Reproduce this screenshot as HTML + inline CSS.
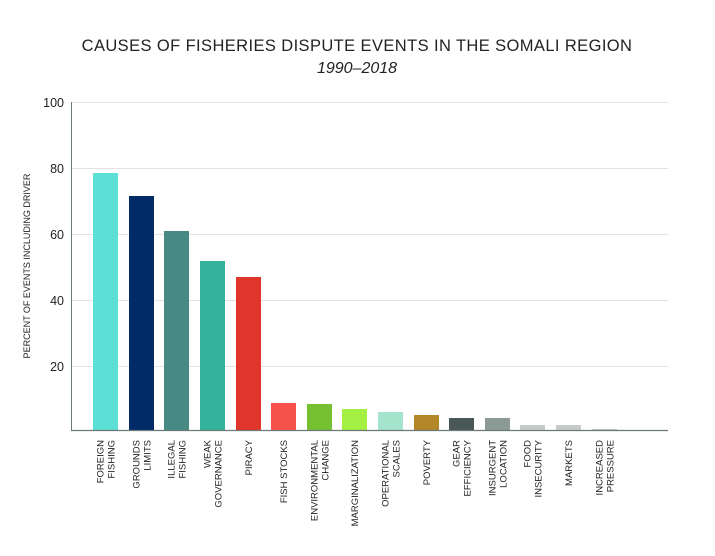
<!DOCTYPE html>
<html><head><meta charset="utf-8"><style>
body{margin:0;background:#fff;}
svg{display:block;font-family:"Liberation Sans",sans-serif;}
</style></head><body>
<svg width="715" height="556" viewBox="0 0 715 556">
<text x="357" y="51" text-anchor="middle" font-size="16.5" fill="#222" letter-spacing="0.4">CAUSES OF FISHERIES DISPUTE EVENTS IN THE SOMALI REGION</text>
<text x="357" y="73" text-anchor="middle" font-size="16" font-style="italic" fill="#222">1990–2018</text>
<g stroke="#e3e3e3" stroke-width="1">
<line x1="71" y1="102.5" x2="668" y2="102.5"/>
<line x1="71" y1="168.5" x2="668" y2="168.5"/>
<line x1="71" y1="234.5" x2="668" y2="234.5"/>
<line x1="71" y1="300.5" x2="668" y2="300.5"/>
<line x1="71" y1="366.5" x2="668" y2="366.5"/>
</g>
<g font-size="12.5" fill="#222" text-anchor="end">
<text x="64" y="107">100</text>
<text x="64" y="173">80</text>
<text x="64" y="239">60</text>
<text x="64" y="305">40</text>
<text x="64" y="371">20</text>
</g>
<text transform="translate(30,266) rotate(-90)" text-anchor="middle" font-size="9" fill="#222">PERCENT OF EVENTS INCLUDING DRIVER</text>
<g>
<rect x="93" y="173" width="25" height="258" fill="#5ce0d6"/>
<rect x="129" y="196" width="25" height="235" fill="#002b66"/>
<rect x="164" y="231" width="25" height="200" fill="#478a84"/>
<rect x="200" y="261" width="25" height="170" fill="#33b39b"/>
<rect x="236" y="277" width="25" height="154" fill="#e0352b"/>
<rect x="271" y="403" width="25" height="28" fill="#f55049"/>
<rect x="307" y="404" width="25" height="27" fill="#75c132"/>
<rect x="342" y="409" width="25" height="22" fill="#a4f043"/>
<rect x="378" y="412" width="25" height="19" fill="#a4e3cc"/>
<rect x="414" y="415" width="25" height="16" fill="#b38627"/>
<rect x="449" y="418" width="25" height="13" fill="#4a5757"/>
<rect x="485" y="418" width="25" height="13" fill="#8c9a96"/>
<rect x="520" y="425" width="25" height="6" fill="#c5cbc8"/>
<rect x="556" y="425" width="25" height="6" fill="#c5cbc8"/>
<rect x="592" y="429" width="25" height="2" fill="#c5cbc8"/>
</g>
<line x1="71" y1="430.5" x2="668" y2="430.5" stroke="#6b7a78" stroke-width="1.2"/>
<line x1="71.5" y1="102" x2="71.5" y2="431" stroke="#6b7a78" stroke-width="1"/>
<g font-size="9.5" fill="#222" text-anchor="end">
<text transform="translate(105.5,440) rotate(-90)"><tspan x="0" y="-2">FOREIGN</tspan><tspan x="0" y="9">FISHING</tspan></text>
<text transform="translate(141.5,440) rotate(-90)"><tspan x="0" y="-2">GROUNDS</tspan><tspan x="0" y="9">LIMITS</tspan></text>
<text transform="translate(176.5,440) rotate(-90)"><tspan x="0" y="-2">ILLEGAL</tspan><tspan x="0" y="9">FISHING</tspan></text>
<text transform="translate(212.5,440) rotate(-90)"><tspan x="0" y="-2">WEAK</tspan><tspan x="0" y="9">GOVERNANCE</tspan></text>
<text transform="translate(248.5,440) rotate(-90)"><tspan x="0" y="3.5">PIRACY</tspan></text>
<text transform="translate(283.5,440) rotate(-90)"><tspan x="0" y="3.5">FISH STOCKS</tspan></text>
<text transform="translate(319.5,440) rotate(-90)"><tspan x="0" y="-2">ENVIRONMENTAL</tspan><tspan x="0" y="9">CHANGE</tspan></text>
<text transform="translate(354.5,440) rotate(-90)"><tspan x="0" y="3.5">MARGINALIZATION</tspan></text>
<text transform="translate(390.5,440) rotate(-90)"><tspan x="0" y="-2">OPERATIONAL</tspan><tspan x="0" y="9">SCALES</tspan></text>
<text transform="translate(426.5,440) rotate(-90)"><tspan x="0" y="3.5">POVERTY</tspan></text>
<text transform="translate(461.5,440) rotate(-90)"><tspan x="0" y="-2">GEAR</tspan><tspan x="0" y="9">EFFICIENCY</tspan></text>
<text transform="translate(497.5,440) rotate(-90)"><tspan x="0" y="-2">INSURGENT</tspan><tspan x="0" y="9">LOCATION</tspan></text>
<text transform="translate(532.5,440) rotate(-90)"><tspan x="0" y="-2">FOOD</tspan><tspan x="0" y="9">INSECURITY</tspan></text>
<text transform="translate(568.5,440) rotate(-90)"><tspan x="0" y="3.5">MARKETS</tspan></text>
<text transform="translate(604.5,440) rotate(-90)"><tspan x="0" y="-2">INCREASED</tspan><tspan x="0" y="9">PRESSURE</tspan></text>
</g>
</svg>
</body></html>
